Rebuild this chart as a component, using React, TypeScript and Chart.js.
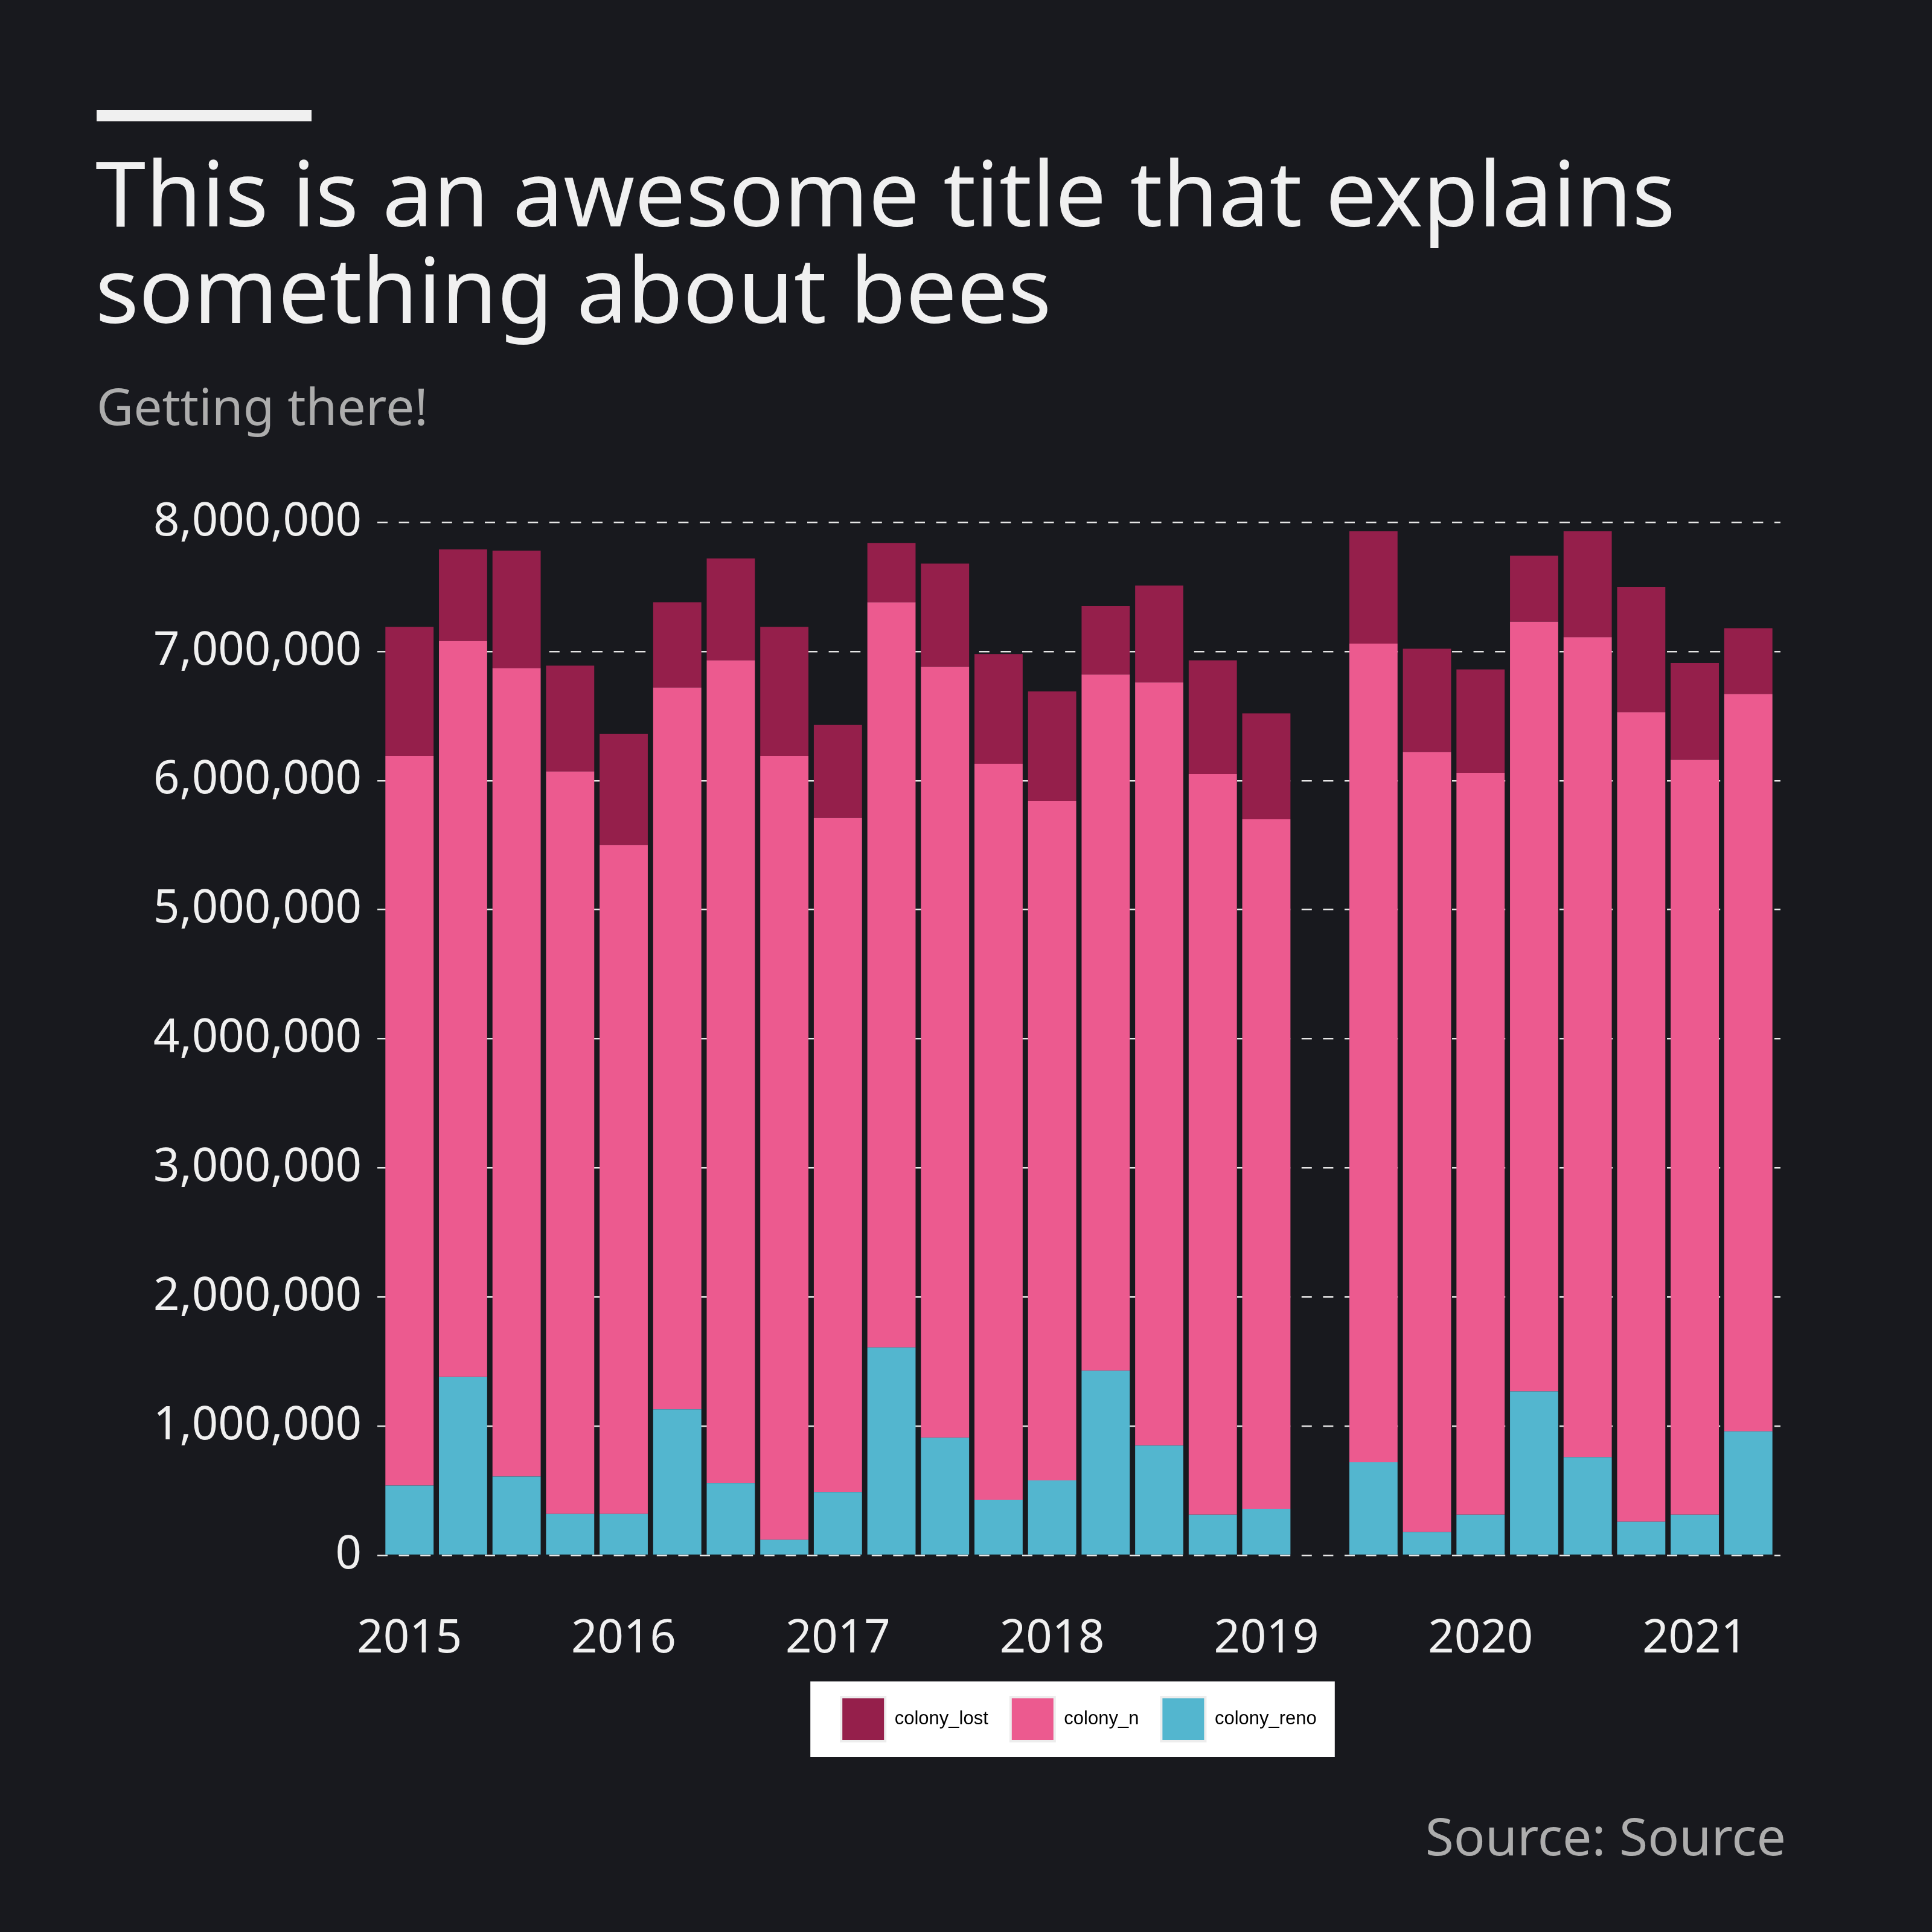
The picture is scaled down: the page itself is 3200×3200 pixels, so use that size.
import React, { useEffect, useRef } from 'react';
import { Chart, registerables } from 'chart.js';

Chart.register(...registerables);

// Quarters (2019 Q2 has no data)
const quarters = [
  '2015 Q1', '2015 Q2', '2015 Q3', '2015 Q4',
  '2016 Q1', '2016 Q2', '2016 Q3', '2016 Q4',
  '2017 Q1', '2017 Q2', '2017 Q3', '2017 Q4',
  '2018 Q1', '2018 Q2', '2018 Q3', '2018 Q4',
  '2019 Q1', '2019 Q2', '2019 Q3', '2019 Q4',
  '2020 Q1', '2020 Q2', '2020 Q3', '2020 Q4',
  '2021 Q1', '2021 Q2',
];

const tickIndex = [0, 4, 8, 12, 16, 20, 24];
const tickLabels = ['2015', '2016', '2017', '2018', '2019', '2020', '2021'];

// Stacked segment values
const colonyReno = [
  540000, 1380000, 610000, 320000,
  320000, 1130000, 560000, 120000,
  490000, 1610000, 910000, 430000,
  580000, 1430000, 850000, 315000,
  360000, null, 720000, 180000,
  315000, 1270000, 760000, 260000,
  315000, 960000,
];

const colonyN = [
  5650000, 5700000, 6260000, 5750000,
  5180000, 5590000, 6370000, 6070000,
  5220000, 5770000, 5970000, 5700000,
  5260000, 5390000, 5910000, 5735000,
  5340000, null, 6340000, 6040000,
  5745000, 5960000, 6350000, 6270000,
  5845000, 5710000,
];

const colonyLost = [
  1000000, 710000, 910000, 820000,
  860000, 660000, 790000, 1000000,
  720000, 460000, 800000, 850000,
  850000, 530000, 750000, 880000,
  820000, null, 870000, 800000,
  800000, 510000, 820000, 970000,
  750000, 510000,
];

const seriesLabels = ['colony_reno', 'colony_n', 'colony_lost'];
const seriesColors = ['#53B6CF', '#EC5A8F', '#951F4B'];

const TEXT = '#F0F0F0';
const GREY = '#ADADAD';
const BG = '#18191E';

export default function App() {
  const ref = useRef<HTMLCanvasElement>(null);

  useEffect(() => {
    if (!ref.current) return;
    const toPts = (arr: (number | null)[]) =>
      quarters.map((_, i) => ({ x: i, y: arr[i] }));

    const legendBg = {
      id: 'legendBg',
      beforeDraw(chart: any) {
        const boxes = chart.legend && chart.legend.legendHitBoxes;
        if (!boxes || !boxes.length) return;
        const first = boxes[0];
        const last = boxes[boxes.length - 1];
        const left = first.left - 2 - 49;
        const right = last.left + last.width + 30;
        const top = first.top - 2 - 24;
        const bottom = first.top + 73 + 2 + 24;
        const ctx = chart.ctx;
        ctx.save();
        ctx.fillStyle = '#FFFFFF';
        ctx.fillRect(left, top, right - left, bottom - top);
        ctx.restore();
      },
    };

    const series = [colonyReno, colonyN, colonyLost];

    const chart = new Chart(ref.current, {
      type: 'bar',
      data: {
        datasets: series.map((arr, k) => ({
          label: seriesLabels[k],
          data: toPts(arr),
          backgroundColor: seriesColors[k],
          borderWidth: 0,
          barPercentage: 0.9,
          categoryPercentage: 1.0,
        })),
      },
      options: {
        responsive: false,
        animation: false,
        devicePixelRatio: 1,
        layout: { padding: { left: 8, right: 251, top: 865, bottom: 306 } },
        plugins: {
          tooltip: { enabled: false },
          title: { display: false },
          legend: {
            position: 'bottom',
            fullSize: false,
            reverse: true,
            align: 'center',
            labels: {
              boxWidth: 73,
              boxHeight: 73,
              padding: 37,
              color: '#000000',
              font: { family: "'Liberation Sans', Arial, sans-serif", size: 31 },
              generateLabels: (c: any) =>
                (Chart.defaults.plugins.legend.labels as any)
                  .generateLabels(c)
                  .map((l: any) => ({ ...l, strokeStyle: '#EDEDED', lineWidth: 4 })),
            },
          },
        },
        scales: {
          x: {
            type: 'linear',
            stacked: true,
            offset: false,
            min: -0.6,
            max: 25.6,
            grid: { display: false, offset: false },
            border: { display: false },
            afterBuildTicks: (s: any) => {
              s.ticks = tickIndex.map((v) => ({ value: v }));
            },
            afterFit: (s: any) => {
              s.height = 198;
            },
            ticks: {
              color: TEXT,
              font: { family: "'Noto Sans', sans-serif", size: 76 },
              padding: 86,
              maxRotation: 0,
              minRotation: 0,
              autoSkip: false,
              callback: (v: any) => {
                const k = tickIndex.indexOf(Number(v));
                return k >= 0 ? tickLabels[k] : '';
              },
            },
          },
          y: {
            stacked: true,
            min: 0,
            max: 8000000,
            afterFit: (s: any) => {
              s.width = 617;
            },
            border: { display: false, dash: [17, 18.6] },
            grid: { color: '#E6E6E6', lineWidth: 2.5, drawTicks: false },
            ticks: {
              stepSize: 1000000,
              color: TEXT,
              font: { family: "'Noto Sans', sans-serif", size: 76 },
              padding: 26,
              callback: (v: any) => Number(v).toLocaleString('en-US'),
            },
          },
        },
      } as any,
      plugins: [legendBg],
    });

    return () => chart.destroy();
  }, []);

  return (
    <div
      style={{
        position: 'absolute',
        left: 0,
        top: 0,
        width: 3200,
        height: 3200,
        background: BG,
        overflow: 'hidden',
      }}
    >
      <div
        style={{
          position: 'absolute',
          left: 160,
          top: 182,
          width: 356,
          height: 19,
          background: TEXT,
        }}
      />
      <div
        style={{
          position: 'absolute',
          left: 158,
          top: 237,
          fontFamily: "'Noto Sans', sans-serif",
          fontSize: 150,
          lineHeight: '160px',
          color: TEXT,
          whiteSpace: 'nowrap',
        }}
      >
        This is an awesome title that explains
        <br />
        something about bees
      </div>
      <div
        style={{
          position: 'absolute',
          left: 160,
          top: 622,
          fontFamily: "'Noto Sans', sans-serif",
          fontSize: 84,
          lineHeight: '100px',
          color: GREY,
          whiteSpace: 'nowrap',
        }}
      >
        Getting there!
      </div>
      <canvas
        ref={ref}
        width={3200}
        height={3200}
        style={{ position: 'absolute', left: 0, top: 0, width: 3200, height: 3200 }}
      />
      <div
        style={{
          position: 'absolute',
          right: 242,
          top: 2990,
          fontFamily: "'Noto Sans', sans-serif",
          fontSize: 86,
          lineHeight: '100px',
          color: GREY,
          whiteSpace: 'nowrap',
        }}
      >
        Source: Source
      </div>
    </div>
  );
}
